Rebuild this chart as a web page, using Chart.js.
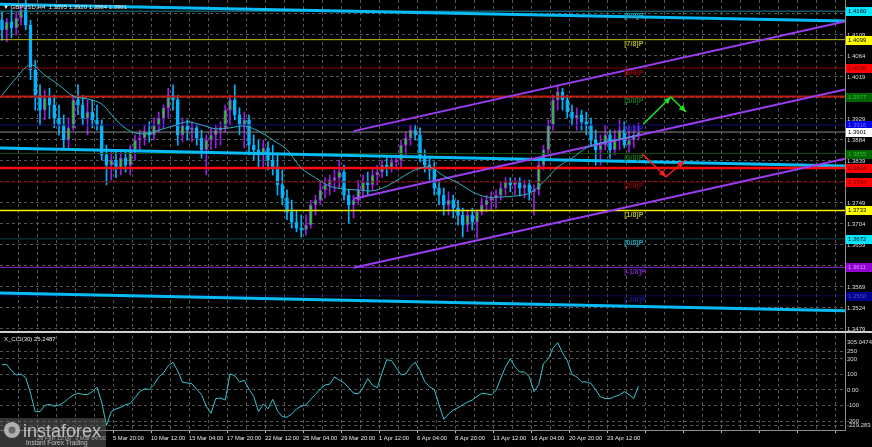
<!DOCTYPE html>
<html>
<head>
<meta charset="utf-8">
<script src="https://cdn.jsdelivr.net/npm/chart.js@4.4.0/dist/chart.umd.min.js"></script>
<style>
  html, body { margin: 0; padding: 0; background: #000; }
  canvas { display: block; }
</style>
</head>
<body>
<canvas id="grafico" width="872" height="447"></canvas>
<script>
// GBPUSD candles (one bar = 8 hours)
const firstOpen = 1.4141;
const highs = [
  1.4158, 1.4145, 1.4163, 1.4158, 1.4173, 1.4184, 1.4141, 1.4055, 1.4002, 1.3991,
  1.3995, 1.3980, 1.3959, 1.3938, 1.3931, 1.3980, 1.4002, 1.3980, 1.3970, 1.3970,
  1.3959, 1.3927, 1.3873, 1.3863, 1.3863, 1.3863, 1.3858, 1.3873, 1.3895, 1.3905,
  1.3916, 1.3923, 1.3931, 1.3944, 1.3959, 1.3995, 1.4002, 1.3980, 1.3931, 1.3927,
  1.3923, 1.3916, 1.3905, 1.3895, 1.3910, 1.3916, 1.3923, 1.3959, 1.3980, 1.4002,
  1.3953, 1.3944, 1.3938, 1.3895, 1.3884, 1.3884, 1.3880, 1.3873, 1.3852, 1.3820,
  1.3777, 1.3755, 1.3734, 1.3723, 1.3723, 1.3755, 1.3766, 1.3794, 1.3803, 1.3809,
  1.3820, 1.3841, 1.3830, 1.3777, 1.3766, 1.3798, 1.3809, 1.3815, 1.3824, 1.3830,
  1.3841, 1.3845, 1.3845, 1.3852, 1.3884, 1.3901, 1.3916, 1.3916, 1.3910, 1.3863,
  1.3845, 1.3837, 1.3798, 1.3781, 1.3773, 1.3766, 1.3755, 1.3738, 1.3734, 1.3738,
  1.3734, 1.3760, 1.3766, 1.3773, 1.3777, 1.3794, 1.3803, 1.3803, 1.3803, 1.3803,
  1.3798, 1.3798, 1.3788, 1.3841, 1.3873, 1.3927, 1.3980, 1.4002, 1.3995, 1.3980,
  1.3959, 1.3953, 1.3948, 1.3944, 1.3931, 1.3905, 1.3895, 1.3916, 1.3905, 1.3905,
  1.3927, 1.3923, 1.3916, 1.3916, 1.3920
];
const lows = [
  1.4098, 1.4094, 1.4103, 1.4109, 1.4130, 1.4120, 1.4013, 1.3948, 1.3916, 1.3927,
  1.3931, 1.3910, 1.3895, 1.3867, 1.3863, 1.3905, 1.3938, 1.3916, 1.3895, 1.3910,
  1.3905, 1.3841, 1.3788, 1.3798, 1.3803, 1.3809, 1.3815, 1.3809, 1.3841, 1.3863,
  1.3873, 1.3880, 1.3884, 1.3901, 1.3910, 1.3931, 1.3948, 1.3873, 1.3880, 1.3884,
  1.3880, 1.3873, 1.3845, 1.3809, 1.3863, 1.3867, 1.3873, 1.3901, 1.3916, 1.3927,
  1.3895, 1.3867, 1.3852, 1.3841, 1.3824, 1.3824, 1.3820, 1.3809, 1.3766, 1.3745,
  1.3713, 1.3695, 1.3687, 1.3676, 1.3680, 1.3695, 1.3723, 1.3745, 1.3760, 1.3766,
  1.3773, 1.3781, 1.3755, 1.3706, 1.3717, 1.3745, 1.3760, 1.3766, 1.3777, 1.3788,
  1.3803, 1.3807, 1.3815, 1.3820, 1.3824, 1.3852, 1.3873, 1.3884, 1.3837, 1.3815,
  1.3798, 1.3766, 1.3745, 1.3723, 1.3723, 1.3717, 1.3702, 1.3676, 1.3687, 1.3691,
  1.3674, 1.3723, 1.3730, 1.3734, 1.3738, 1.3755, 1.3766, 1.3773, 1.3766, 1.3764,
  1.3760, 1.3755, 1.3723, 1.3766, 1.3820, 1.3852, 1.3905, 1.3948, 1.3948, 1.3931,
  1.3916, 1.3905, 1.3905, 1.3895, 1.3873, 1.3830, 1.3830, 1.3863, 1.3845, 1.3852,
  1.3863, 1.3867, 1.3858, 1.3867, 1.3884
];
const closes = [
  1.4120, 1.4137, 1.4124, 1.4145, 1.4163, 1.4130, 1.4034, 1.3980, 1.3948, 1.3974,
  1.3959, 1.3931, 1.3916, 1.3884, 1.3910, 1.3970, 1.3959, 1.3931, 1.3944, 1.3927,
  1.3916, 1.3852, 1.3830, 1.3841, 1.3824, 1.3845, 1.3830, 1.3863, 1.3884, 1.3888,
  1.3901, 1.3895, 1.3916, 1.3931, 1.3953, 1.3980, 1.3970, 1.3895, 1.3916, 1.3905,
  1.3910, 1.3888, 1.3863, 1.3884, 1.3895, 1.3905, 1.3910, 1.3948, 1.3970, 1.3938,
  1.3916, 1.3927, 1.3873, 1.3863, 1.3852, 1.3867, 1.3841, 1.3824, 1.3788, 1.3760,
  1.3730, 1.3708, 1.3695, 1.3691, 1.3702, 1.3745, 1.3755, 1.3777, 1.3788, 1.3798,
  1.3803, 1.3815, 1.3766, 1.3745, 1.3755, 1.3777, 1.3794, 1.3788, 1.3809, 1.3815,
  1.3830, 1.3824, 1.3837, 1.3841, 1.3873, 1.3888, 1.3905, 1.3895, 1.3845, 1.3830,
  1.3820, 1.3781, 1.3766, 1.3745, 1.3755, 1.3738, 1.3723, 1.3702, 1.3723, 1.3708,
  1.3730, 1.3745, 1.3755, 1.3760, 1.3766, 1.3781, 1.3794, 1.3788, 1.3794, 1.3781,
  1.3788, 1.3773, 1.3777, 1.3830, 1.3863, 1.3916, 1.3970, 1.3987, 1.3970, 1.3944,
  1.3931, 1.3938, 1.3923, 1.3916, 1.3884, 1.3863, 1.3873, 1.3895, 1.3863, 1.3884,
  1.3905, 1.3873, 1.3884, 1.3895, 1.3901
];

// moving average, read every third bar
const maAt = [0, 3, 6, 9, 12, 15, 18, 21, 24, 27, 30, 33, 36, 39, 42, 45, 48, 51, 54, 57,
  60, 63, 66, 69, 72, 75, 78, 81, 84, 87, 90, 93, 96, 99, 102, 105, 108, 111, 114, 117,
  120, 123, 126, 129, 132, 134];
const maValues = [
  1.3980, 1.4017, 1.4045, 1.4023, 1.4002, 1.3978, 1.3972, 1.3961, 1.3927, 1.3903,
  1.3897, 1.3905, 1.3914, 1.3923, 1.3916, 1.3908, 1.3910, 1.3914, 1.3903, 1.3884,
  1.3863, 1.3824, 1.3803, 1.3785, 1.3779, 1.3777, 1.3775, 1.3785, 1.3803, 1.3820,
  1.3826, 1.3807, 1.3792, 1.3773, 1.3762, 1.3762, 1.3764, 1.3770, 1.3794, 1.3826,
  1.3845, 1.3867, 1.3878, 1.3884, 1.3890, 1.3895
];

// CCI(30), one value per bar
const cciValues = [
  162, 165, 125, 97, 103, 80, -20, -140, -140, -100,
  -92, -105, -98, -80, -55, -33, -21, -28, -30, -11,
  18, -80, -229.283, -140, -122, -112, -95, -86, -50, -10,
  8, 3, 35, 84, 110, 155, 179, 122, 50, 45,
  40, 5, -30, -105, -150, -55, -52, -65, 104, 92,
  53, 62, 5, -42, -140, -90, -122, -60, -135, -172,
  -175, -155, -122, -105, -96, -60, -28, 5, 32, 38,
  84, 65, 45, 15, -20, -25, 15, 74, 30, 15,
  110, 195, 190, 143, 98, 103, 150, 179, 125, 55,
  21, 3, -95, -189, -155, -130, -114, -95, -78, -65,
  -42, -21, -24, -32, -3, 75, 150, 200, 150, 116,
  116, 86, -11, 35, 170, 200, 270, 305.0474, 240, 190,
  100, 85, 53, 52, 42, 0, -45, -55, -55, -42,
  -32, -10, -30, -55, 25.2487
];
const cciTicks = [-229.283, -200, -100, 0, 100, 200, 250, 305.0474];

// Murrey math levels
const murrayLevels = [1.4160, 1.4099, 1.4038, 1.3977, 1.3916, 1.3855, 1.3794, 1.3733, 1.3672, 1.3611, 1.3550];
const murrayNames = ["[8/8]P", "[7/8]P", "[6/8]P", "[5/8]P", "[4/8]P", "[3/8]P", "[2/8]P", "[1/8]P", "[0/8]P", "[-1/8]P", "[-2/8]P"];
const murrayLine = ["#1b8796", "#bcbc1c", "#8c0000", "#1c5a1c", "#10107a", "#0d4d0d", "#6e0000", "#f2f200", "#0c4444", "#8a22d8", "#0c0c4a"];
const murrayText = ["#23a4b4", "#b4b428", "#a00000", "#1e6e1e", "#2424c8", "#1e6e1e", "#880000", "#b4b428", "#23a4b4", "#7a22c4", "#1c1c8c"];

const lastPrice = 1.3901;
const pivotRed = 1.3824;
const resistRed = 1.3977;

// rising channel (start bar, price at start, price at right edge)
const channelStartBar = 74;
const channelFrom = [1.3903, 1.3758, 1.3610];
const channelTo = [1.4138, 1.3992, 1.3844];
// falling regression channel (left edge, right edge)
const regFrom = [1.4175, 1.3867, 1.3556];
const regTo = [1.4139, 1.3828, 1.3518];

// forecast arrows (bar, price)
const greenArrow = [[135.0, 1.3918], [140.8, 1.3976], [144.0, 1.3944]];
const redArrow = [[134.8, 1.3854], [139.8, 1.3805], [143.6, 1.3839]];

const priceTicks = [1.4154, 1.4109, 1.4064, 1.4019, 1.3974, 1.3929, 1.3884, 1.3839, 1.3794, 1.3749, 1.3704, 1.3659, 1.3614, 1.3569, 1.3524, 1.3479];
const priceBoxes = [1.4160, 1.4099, 1.4038, 1.3977, 1.3916, 1.3901, 1.3855, 1.3824, 1.3794, 1.3733, 1.3672, 1.3611, 1.3550];
const boxBg = ["#00e8ff", "#ffff00", "#ff0000", "#006400", "#0000e6", "#ffffff", "#006400", "#ff0000", "#ff0000", "#ffff00", "#00e8ff", "#9400d3", "#00008c"];
const boxFg = ["#000000", "#000000", "#600000", "#30c030", "#7070ff", "#000000", "#30c030", "#600000", "#600000", "#000000", "#000000", "#d0a0ff", "#5050d0"];

const dateLabels = ["26 Feb 12:00", "3 Mar 04:00", "5 Mar 20:00", "10 Mar 12:00", "15 Mar 04:00", "17 Mar 20:00",
  "22 Mar 12:00", "25 Mar 04:00", "29 Mar 20:00", "1 Apr 12:00", "6 Apr 04:00", "8 Apr 20:00",
  "13 Apr 12:00", "16 Apr 04:00", "20 Apr 20:00", "23 Apr 12:00"];
const firstLabelBar = 7.37;
const barsPerLabel = 8;

const xMin = -0.42;
const xMax = 177.47;

const opens = closes.map((c, i) => (i === 0 ? firstOpen : closes[i - 1]));
const isUp = i => closes[i] >= opens[i];

const PURPLE = "#9a1ee6";
const CYAN = "#00b4ff";
const GREEN = "#10e010";

function flat(v) {
  return [{ x: xMin, y: v }, { x: xMax, y: v }];
}
function lineDs(data, color, width, order, extra) {
  return Object.assign({
    type: "line", data, borderColor: color, borderWidth: width,
    pointRadius: 0, yAxisID: "y", order, tension: 0
  }, extra || {});
}

const datasets = [];
murrayLevels.forEach((lv, k) => {
  datasets.push(lineDs(flat(lv), murrayLine[k], k === 7 ? 1.5 : 1, 6));
});
datasets.push(lineDs(flat(lastPrice), "#8a8a8a", 1, 6));
datasets.push(lineDs(flat(resistRed), "#c41a10", 2, 5));
datasets.push(lineDs(flat(pivotRed), "#ff0a0a", 2.5, 5));
regFrom.forEach((p, k) => {
  datasets.push(lineDs([{ x: xMin, y: p }, { x: xMax, y: regTo[k] }], "#08baf5", 3, 5));
});

datasets.push({
  type: "bar", yAxisID: "y", order: 8, grouped: false, barThickness: 1,
  data: closes.map((c, i) => ({ x: i, y: [lows[i], highs[i]] })),
  backgroundColor: ctx => (isUp(ctx.dataIndex) ? PURPLE : CYAN)
});
datasets.push({
  type: "bar", yAxisID: "y", order: 7, grouped: false, barThickness: 3,
  minBarLength: 1, borderWidth: 1, borderSkipped: false,
  data: closes.map((c, i) => ({ x: i, y: [opens[i], c] })),
  backgroundColor: ctx => (isUp(ctx.dataIndex) ? GREEN : CYAN),
  borderColor: ctx => (isUp(ctx.dataIndex) ? PURPLE : CYAN)
});

channelFrom.forEach((p, k) => {
  datasets.push(lineDs([{ x: channelStartBar, y: p }, { x: xMax, y: channelTo[k] }], "#9b3cf0", 2, 2));
});
datasets.push(lineDs(maAt.map((b, k) => ({ x: b, y: maValues[k] })), "#2cb4c4", 1, 1, { tension: 0.35 }));
datasets.push({
  type: "line", yAxisID: "cci", order: 1, pointRadius: 0, borderWidth: 1, borderColor: "#36c6cc",
  data: cciValues.map((v, i) => ({ x: i, y: v }))
});

function arrow(c, pts, color) {
  c.strokeStyle = color;
  c.fillStyle = color;
  c.lineWidth = 1.5;
  c.beginPath();
  c.moveTo(pts[0][0], pts[0][1]);
  for (let k = 1; k < pts.length; k++) c.lineTo(pts[k][0], pts[k][1]);
  c.stroke();
  for (let k = 1; k < pts.length; k++) {
    const a = pts[k - 1], b = pts[k];
    const ang = Math.atan2(b[1] - a[1], b[0] - a[0]);
    const L = 7, W = 3.2;
    const cs = Math.cos(ang), sn = Math.sin(ang);
    c.beginPath();
    c.moveTo(b[0], b[1]);
    c.lineTo(b[0] - L * cs + W * sn, b[1] - L * sn - W * cs);
    c.lineTo(b[0] - L * cs - W * sn, b[1] - L * sn + W * cs);
    c.closePath();
    c.fill();
  }
}

const overlay = {
  id: "overlay",
  beforeDraw(chart) {
    const c = chart.ctx;
    c.save();
    c.fillStyle = "#000";
    c.fillRect(0, 0, chart.width, chart.height);
    c.restore();
  },
  afterDraw(chart) {
    const c = chart.ctx;
    const { x, y, cci } = chart.scales;
    const area = chart.chartArea;
    c.save();

    // level names
    c.font = 'bold 7px "Liberation Sans"';
    c.textBaseline = "top";
    c.textAlign = "left";
    const lx = x.getPixelForValue(131);
    murrayLevels.forEach((lv, k) => {
      c.fillStyle = murrayText[k];
      c.fillText(murrayNames[k], lx, y.getPixelForValue(lv) + 1);
    });

    const px = p => [x.getPixelForValue(p[0]), y.getPixelForValue(p[1])];
    arrow(c, greenArrow.map(px), "#22dd22");
    arrow(c, redArrow.map(px), "#ff1c1c");

    // pane separator
    c.fillStyle = "#cfcfcf";
    c.fillRect(0, Math.round(cci.top) - 1, chart.width, 2);

    // coloured price marks on the right axis
    c.font = '6px "Liberation Sans"';
    c.textBaseline = "middle";
    priceBoxes.forEach((p, k) => {
      const py = Math.round(y.getPixelForValue(p));
      c.fillStyle = boxBg[k];
      c.fillRect(area.right + 1, py - 4, chart.width - area.right - 1, 9);
      c.fillStyle = boxFg[k];
      c.fillText(p.toFixed(4), area.right + 3, py + 0.5);
    });

    // titles
    c.fillStyle = "#e6e6e6";
    c.font = '6px "Liberation Sans"';
    c.textBaseline = "middle";
    c.fillText("\u25BC GBPUSD,H4  1.3895 1.3920 1.3884 1.3901", 3, 7);
    c.fillText("X_CCI(30) 25.2487", 4, 339);

    // watermark
    c.fillStyle = "rgba(95,95,95,0.55)";
    c.fillRect(0, 418, 106, 29);
    c.fillStyle = "rgba(205,205,205,0.8)";
    c.beginPath();
    c.arc(12, 430, 8, 0, Math.PI * 2);
    c.fill();
    c.fillStyle = "rgba(95,95,95,0.9)";
    c.beginPath();
    c.arc(12, 430, 3.5, 0, Math.PI * 2);
    c.fill();
    c.fillStyle = "rgba(215,215,215,0.85)";
    c.font = '18px "Liberation Sans"';
    c.textBaseline = "alphabetic";
    c.fillText("instaforex", 23, 437);
    c.font = '6.5px "Liberation Sans"';
    c.fillText("Instant Forex Trading", 26, 445);
    c.restore();
  }
};

Chart.defaults.font.family = '"Liberation Sans", Arial, sans-serif';

new Chart(document.getElementById("grafico"), {
  type: "bar",
  data: { datasets },
  plugins: [overlay],
  options: {
    responsive: false,
    animation: false,
    devicePixelRatio: 1,
    events: [],
    layout: { padding: 0 },
    plugins: { legend: { display: false }, tooltip: { enabled: false } },
    scales: {
      x: {
        type: "linear", min: xMin, max: xMax, offset: false,
        afterBuildTicks: s => {
          const t = [];
          for (let v = firstLabelBar - barsPerLabel / 2; v < xMax; v += barsPerLabel / 2) t.push({ value: v });
          s.ticks = t;
        },
        afterFit: s => { s.height = 17; s.paddingLeft = 0; s.paddingRight = 0; },
        ticks: {
          autoSkip: false, maxRotation: 0, align: "start", padding: 2,
          color: "#e8e8e8", font: { size: 5.8 },
          callback: (v, i) => (i % 2 === 1 ? dateLabels[(i - 1) / 2] || "" : "")
        },
        grid: {
          offset: false, color: "#555555", lineWidth: 1, tickLength: 3,
          tickColor: ctx => (ctx.index % 2 === 1 ? "#bdbdbd" : "rgba(0,0,0,0)")
        },
        border: { display: true, color: "#8c8c8c", dash: [3, 3] }
      },
      y: {
        type: "linear", position: "right", stack: "pane", stackWeight: 332,
        min: 1.34725, max: 1.4184,
        afterBuildTicks: s => { s.ticks = priceTicks.map(v => ({ value: v })); },
        afterFit: s => { s.width = 27; s.paddingTop = 0; s.paddingBottom = 0; },
        ticks: { autoSkip: false, padding: 2, color: "#dcdcdc", font: { size: 6 }, callback: v => v.toFixed(4) },
        grid: { color: "#555555", drawTicks: false },
        border: { display: true, color: "#8c8c8c", dash: [3, 3] }
      },
      cci: {
        type: "linear", position: "right", stack: "pane", stackWeight: 98,
        min: -258, max: 374,
        afterBuildTicks: s => { s.ticks = cciTicks.map(v => ({ value: v })); },
        afterFit: s => { s.width = 27; s.paddingTop = 0; s.paddingBottom = 0; },
        ticks: { autoSkip: false, padding: 2, color: "#dcdcdc", font: { size: 6 }, callback: v => (v === 0 ? "0.00" : String(v)) },
        grid: { color: ctx => (ctx.tick && ctx.tick.value === 305.0474 ? "rgba(0,0,0,0)" : "#555555"), drawTicks: false },
        border: { display: true, color: "#8c8c8c", dash: [3, 3] }
      }
    }
  }
});
</script>
</body>
</html>
